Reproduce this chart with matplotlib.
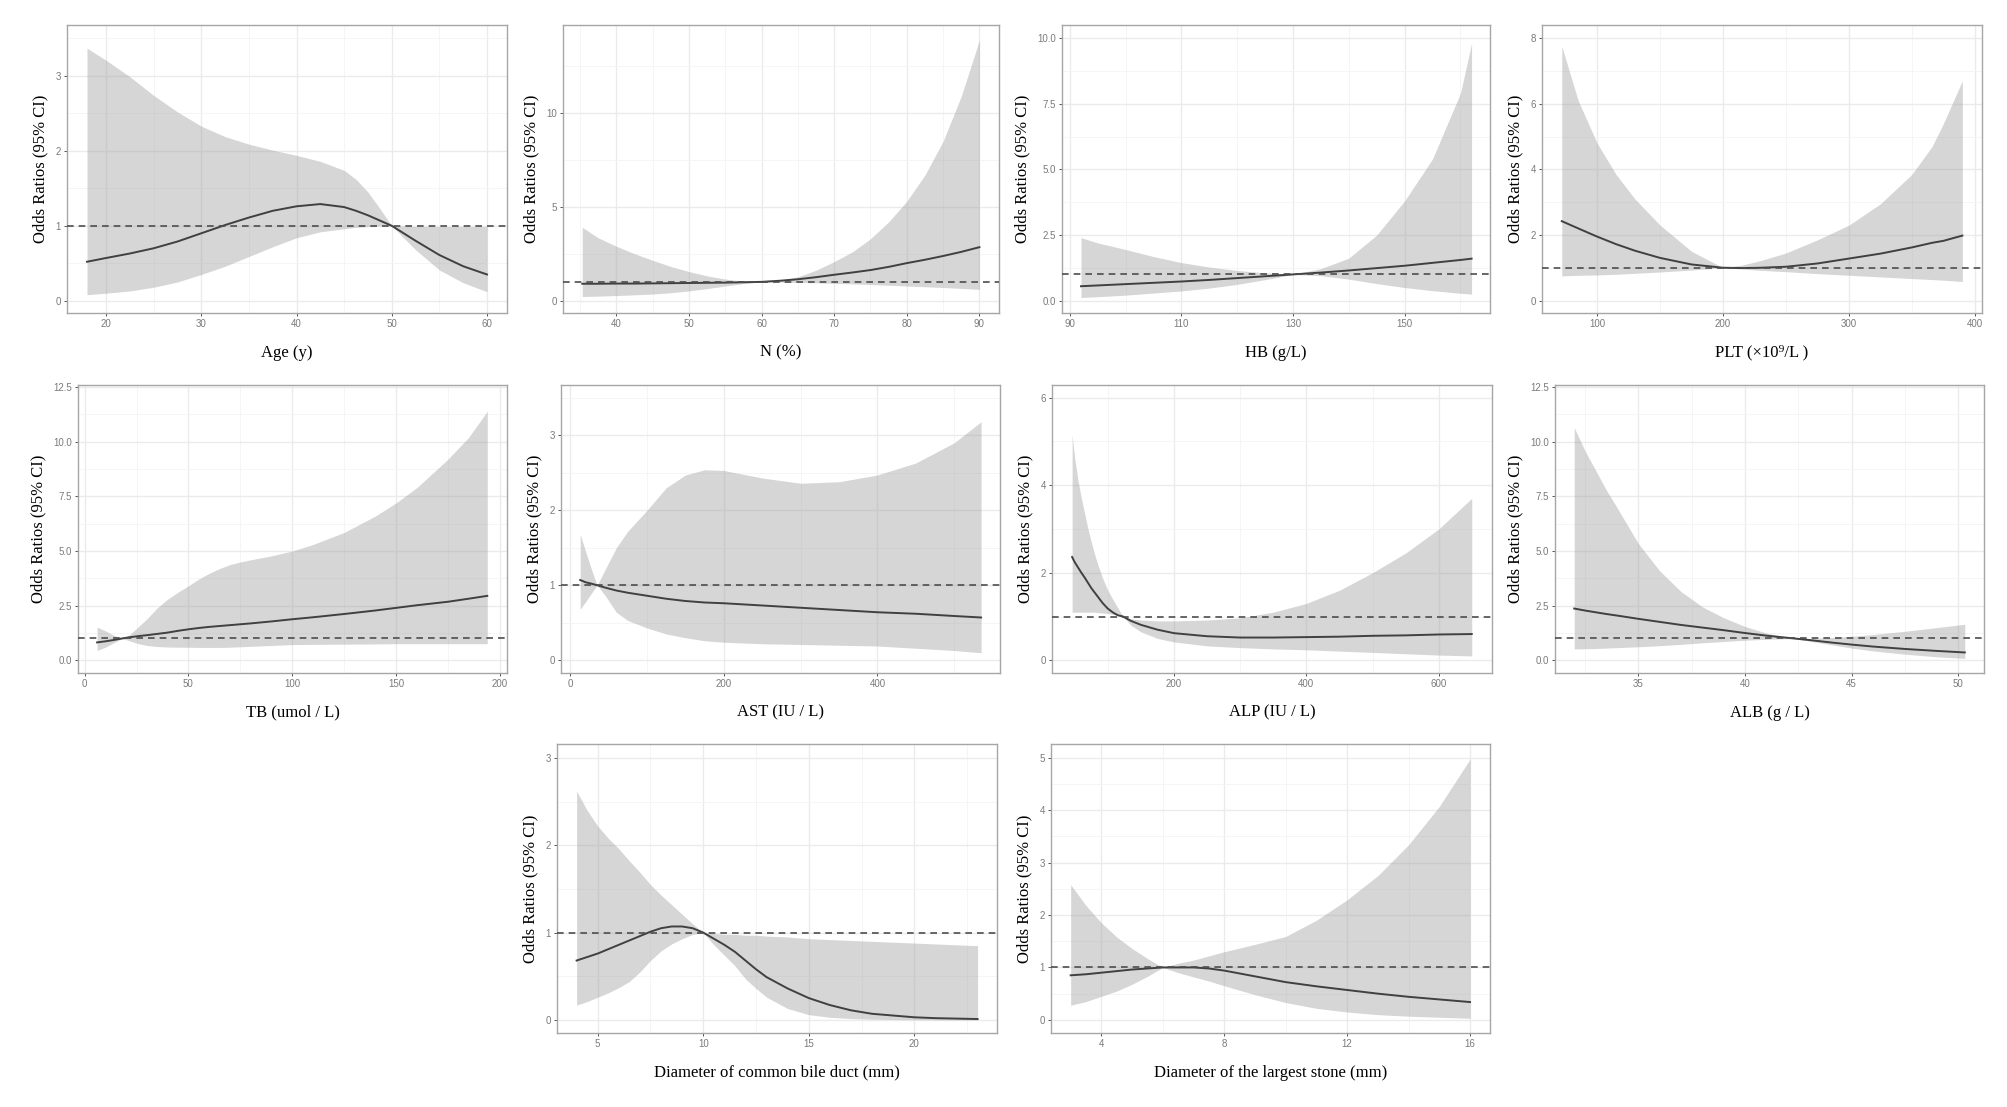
import matplotlib
matplotlib.use('Agg')
import matplotlib.pyplot as plt
from matplotlib.ticker import AutoMinorLocator

# ---- data (odds ratio curve with 95% CI band) ----
age_x  = [18, 20, 22.5, 25, 27.5, 30, 32.5, 35, 37.5, 40, 42.5, 45, 46.25, 47.5, 48.75, 50, 52.5, 55, 57.5, 60]
age_or = [0.52, 0.57, 0.63, 0.70, 0.79, 0.90, 1.01, 1.11, 1.20, 1.26, 1.29, 1.25, 1.20, 1.14, 1.07, 1.0, 0.80, 0.61, 0.46, 0.35]
age_lo = [0.08, 0.10, 0.13, 0.18, 0.25, 0.35, 0.46, 0.59, 0.72, 0.84, 0.92, 0.96, 0.98, 0.99, 1.0, 1.0, 0.68, 0.41, 0.24, 0.12]
age_hi = [3.37, 3.21, 2.99, 2.74, 2.52, 2.33, 2.19, 2.09, 2.01, 1.94, 1.86, 1.74, 1.62, 1.45, 1.23, 1.0, 0.99, 0.99, 0.99, 0.99]

n_x  = [35.3, 37.5, 40, 42.5, 45, 47.5, 50, 52.5, 55, 57.5, 60, 62.5, 65, 67.5, 70, 72.5, 75, 77.5, 80, 82.5, 85, 87.5, 90]
n_or = [0.90, 0.90, 0.91, 0.91, 0.92, 0.93, 0.94, 0.95, 0.96, 0.98, 1.0, 1.06, 1.14, 1.25, 1.38, 1.50, 1.63, 1.80, 2.0, 2.18, 2.38, 2.60, 2.85]
n_lo = [0.22, 0.24, 0.27, 0.31, 0.35, 0.42, 0.52, 0.64, 0.78, 0.91, 1.0, 0.99, 0.97, 0.95, 0.92, 0.89, 0.86, 0.82, 0.78, 0.74, 0.70, 0.65, 0.60]
n_hi = [3.91, 3.35, 2.90, 2.50, 2.15, 1.82, 1.55, 1.32, 1.15, 1.04, 1.0, 1.08, 1.27, 1.62, 2.08, 2.60, 3.30, 4.20, 5.30, 6.70, 8.50, 10.9, 13.9]

hb_x  = [92, 95, 100, 105, 110, 115, 120, 125, 130, 135, 140, 145, 150, 155, 160, 162]
hb_or = [0.55, 0.58, 0.63, 0.68, 0.73, 0.79, 0.86, 0.93, 1.0, 1.07, 1.15, 1.24, 1.33, 1.44, 1.55, 1.60]
hb_lo = [0.12, 0.15, 0.21, 0.29, 0.37, 0.48, 0.62, 0.80, 1.0, 0.95, 0.82, 0.65, 0.50, 0.38, 0.28, 0.25]
hb_hi = [2.40, 2.20, 1.95, 1.68, 1.45, 1.28, 1.15, 1.06, 1.0, 1.22, 1.62, 2.50, 3.80, 5.40, 7.90, 9.80]

plt_x  = [72, 85, 100, 115, 130, 150, 175, 200, 215, 230, 250, 275, 300, 325, 350, 366, 375, 390]
plt_or = [2.42, 2.20, 1.95, 1.72, 1.52, 1.30, 1.10, 1.0, 0.99, 1.0, 1.03, 1.13, 1.28, 1.43, 1.62, 1.76, 1.82, 1.98]
plt_lo = [0.75, 0.77, 0.78, 0.80, 0.83, 0.87, 0.93, 1.0, 0.96, 0.92, 0.88, 0.82, 0.77, 0.72, 0.67, 0.64, 0.62, 0.58]
plt_hi = [7.75, 6.10, 4.80, 3.85, 3.10, 2.30, 1.50, 1.0, 1.08, 1.22, 1.45, 1.85, 2.30, 2.95, 3.85, 4.70, 5.40, 6.70]

tb_x  = [6, 10, 14, 18, 22, 26, 30, 35, 40, 45, 50, 55, 60, 65, 70, 75, 80, 90, 100, 110, 125, 140, 150, 160, 175, 185, 194]
tb_or = [0.82, 0.87, 0.93, 1.0, 1.06, 1.11, 1.15, 1.21, 1.27, 1.35, 1.42, 1.48, 1.53, 1.57, 1.61, 1.65, 1.69, 1.78, 1.88, 1.97, 2.12, 2.28, 2.40, 2.52, 2.68, 2.82, 2.95]
tb_lo = [0.45, 0.60, 0.80, 1.0, 0.88, 0.76, 0.68, 0.63, 0.61, 0.60, 0.60, 0.59, 0.59, 0.59, 0.60, 0.62, 0.64, 0.68, 0.72, 0.73, 0.74, 0.75, 0.76, 0.76, 0.76, 0.76, 0.76]
tb_hi = [1.52, 1.35, 1.15, 1.0, 1.20, 1.55, 1.90, 2.40, 2.80, 3.12, 3.41, 3.72, 3.98, 4.20, 4.38, 4.50, 4.60, 4.78, 5.00, 5.30, 5.85, 6.60, 7.20, 7.90, 9.20, 10.2, 11.4]

ast_x  = [13, 20, 28, 35, 45, 60, 75, 100, 125, 150, 175, 200, 250, 300, 350, 400, 450, 500, 535]
ast_or = [1.07, 1.04, 1.02, 1.0, 0.97, 0.93, 0.90, 0.86, 0.82, 0.79, 0.77, 0.76, 0.73, 0.70, 0.67, 0.64, 0.62, 0.59, 0.57]
ast_lo = [0.68, 0.78, 0.90, 1.0, 0.87, 0.64, 0.53, 0.43, 0.35, 0.30, 0.26, 0.24, 0.22, 0.21, 0.20, 0.19, 0.16, 0.13, 0.10]
ast_hi = [1.68, 1.45, 1.20, 1.0, 1.20, 1.50, 1.72, 2.00, 2.30, 2.47, 2.54, 2.53, 2.43, 2.36, 2.38, 2.47, 2.63, 2.90, 3.18]

alp_x  = [46, 50, 55, 60, 65, 70, 75, 80, 85, 92, 100, 108, 115, 123, 135, 150, 175, 200, 250, 300, 350, 400, 450, 500, 550, 600, 650]
alp_or = [2.36, 2.24, 2.12, 2.00, 1.89, 1.77, 1.65, 1.55, 1.45, 1.31, 1.18, 1.09, 1.03, 1.0, 0.90, 0.81, 0.70, 0.62, 0.55, 0.52, 0.52, 0.53, 0.54, 0.56, 0.57, 0.59, 0.60]
alp_lo = [1.10, 1.10, 1.10, 1.10, 1.10, 1.10, 1.10, 1.10, 1.09, 1.08, 1.07, 1.05, 1.03, 1.0, 0.80, 0.65, 0.50, 0.42, 0.33, 0.29, 0.26, 0.24, 0.21, 0.18, 0.15, 0.12, 0.10]
alp_hi = [5.15, 4.60, 4.10, 3.70, 3.35, 3.00, 2.70, 2.42, 2.18, 1.88, 1.60, 1.38, 1.20, 1.0, 0.95, 0.92, 0.90, 0.90, 0.92, 0.97, 1.10, 1.30, 1.60, 2.00, 2.45, 3.00, 3.70]

alb_x  = [32.0, 32.5, 33, 33.5, 34, 35, 36, 37, 38, 39, 40, 41, 42.3, 43, 44, 45, 46, 47.5, 49, 50.3]
alb_or = [2.37, 2.28, 2.20, 2.12, 2.05, 1.90, 1.76, 1.62, 1.50, 1.38, 1.25, 1.13, 1.0, 0.93, 0.82, 0.72, 0.63, 0.52, 0.43, 0.36]
alb_lo = [0.52, 0.53, 0.54, 0.56, 0.58, 0.62, 0.67, 0.73, 0.80, 0.86, 0.92, 0.96, 1.0, 0.88, 0.72, 0.56, 0.43, 0.28, 0.16, 0.09]
alb_hi = [10.65, 9.60, 8.70, 7.80, 7.00, 5.35, 4.10, 3.15, 2.45, 1.95, 1.55, 1.25, 1.0, 1.0, 1.04, 1.10, 1.18, 1.33, 1.50, 1.65]

cbd_x  = [4, 4.5, 5, 5.5, 6, 6.5, 7, 7.5, 8, 8.5, 9, 9.5, 10, 10.5, 11, 11.5, 12, 12.5, 13, 14, 15, 16, 17, 18, 19, 20, 21, 22, 23]
cbd_or = [0.68, 0.72, 0.76, 0.81, 0.86, 0.91, 0.96, 1.01, 1.05, 1.07, 1.07, 1.05, 1.0, 0.93, 0.86, 0.78, 0.68, 0.58, 0.49, 0.36, 0.25, 0.17, 0.11, 0.07, 0.05, 0.03, 0.02, 0.015, 0.01]
cbd_lo = [0.17, 0.21, 0.26, 0.31, 0.37, 0.44, 0.55, 0.68, 0.79, 0.87, 0.93, 0.98, 1.0, 0.86, 0.74, 0.62, 0.47, 0.36, 0.26, 0.13, 0.06, 0.03, 0.015, 0.008, 0.004, 0.002, 0.001, 0.0, 0.0]
cbd_hi = [2.62, 2.40, 2.22, 2.08, 1.96, 1.82, 1.69, 1.55, 1.43, 1.32, 1.21, 1.10, 1.0, 0.99, 0.98, 0.98, 0.97, 0.97, 0.96, 0.95, 0.93, 0.92, 0.91, 0.90, 0.89, 0.88, 0.87, 0.86, 0.85]

st_x  = [3, 3.5, 4, 4.5, 5, 5.5, 6, 6.5, 7, 7.5, 8, 9, 10, 11, 12, 13, 14, 15, 16]
st_or = [0.85, 0.87, 0.90, 0.93, 0.96, 0.98, 1.0, 1.0, 1.0, 0.98, 0.94, 0.83, 0.72, 0.64, 0.57, 0.50, 0.44, 0.39, 0.34]
st_lo = [0.28, 0.35, 0.45, 0.55, 0.68, 0.83, 1.0, 0.90, 0.82, 0.74, 0.65, 0.48, 0.33, 0.22, 0.15, 0.10, 0.07, 0.05, 0.03]
st_hi = [2.58, 2.18, 1.85, 1.58, 1.36, 1.17, 1.0, 1.08, 1.14, 1.22, 1.30, 1.44, 1.59, 1.90, 2.29, 2.75, 3.34, 4.07, 4.97]

# ---- layout (pixel boxes in the 2008 x 1107 canvas) ----
W, H = 2008, 1107
serif = ['Liberation Serif', 'DejaVu Serif']
sans = ['Liberation Sans', 'DejaVu Sans']

fig = plt.figure(figsize=(W / 100, H / 100), dpi=100)
fig.patch.set_facecolor('white')

panels = [
    # x, or, lo, hi, xlabel, (left, right, top, bottom), xlim, ylim, xticks, yticks, yticklabels
    (age_x, age_or, age_lo, age_hi, 'Age (y)', (67, 507, 25, 313), (15.9, 62.1), (-0.164, 3.68),
     [20, 30, 40, 50, 60], [0, 1, 2, 3], ['0', '1', '2', '3']),
    (n_x, n_or, n_lo, n_hi, 'N (%)', (563, 999, 25, 313), (32.65, 92.7), (-0.66, 14.7),
     [40, 50, 60, 70, 80, 90], [0, 5, 10], ['0', '5', '10']),
    (hb_x, hb_or, hb_lo, hb_hi, 'HB (g/L)', (1062, 1490, 25, 313), (88.6, 165.3), (-0.47, 10.5),
     [90, 110, 130, 150], [0, 2.5, 5, 7.5, 10], ['0.0', '2.5', '5.0', '7.5', '10.0']),
    (plt_x, plt_or, plt_lo, plt_hi, 'PLT (\u00d710\u2079/L )', (1542, 1982, 25, 313), (56.3, 405.6), (-0.38, 8.4),
     [100, 200, 300, 400], [0, 2, 4, 6, 8], ['0', '2', '4', '6', '8']),
    (tb_x, tb_or, tb_lo, tb_hi, 'TB (umol / L)', (78, 507, 385, 673), (-3.2, 203.5), (-0.58, 12.6),
     [0, 50, 100, 150, 200], [0, 2.5, 5, 7.5, 10, 12.5], ['0.0', '2.5', '5.0', '7.5', '10.0', '12.5']),
    (ast_x, ast_or, ast_lo, ast_hi, 'AST (IU / L)', (561, 1000, 385, 673), (-12, 559.6), (-0.17, 3.67),
     [0, 200, 400], [0, 1, 2, 3], ['0', '1', '2', '3']),
    (alp_x, alp_or, alp_lo, alp_hi, 'ALP (IU / L)', (1052, 1492, 385, 673), (15.6, 680.6), (-0.29, 6.29),
     [200, 400, 600], [0, 2, 4, 6], ['0', '2', '4', '6']),
    (alb_x, alb_or, alb_lo, alb_hi, 'ALB (g / L)', (1555, 1984, 385, 673), (31.1, 51.2), (-0.58, 12.6),
     [35, 40, 45, 50], [0, 2.5, 5, 7.5, 10, 12.5], ['0.0', '2.5', '5.0', '7.5', '10.0', '12.5']),
    (cbd_x, cbd_or, cbd_lo, cbd_hi, 'Diameter of common bile duct (mm)', (557, 997, 744, 1033), (3.07, 23.92), (-0.15, 3.16),
     [5, 10, 15, 20], [0, 1, 2, 3], ['0', '1', '2', '3']),
    (st_x, st_or, st_lo, st_hi, 'Diameter of the largest stone (mm)', (1051, 1490, 744, 1033), (2.36, 16.65), (-0.25, 5.26),
     [4, 8, 12, 16], [0, 1, 2, 3, 4, 5], ['0', '1', '2', '3', '4', '5']),
]

for (x, odds, lo, hi, xlabel, box, xlim, ylim, xticks, yticks, ylabs) in panels:
    left, right, top, bottom = box
    ax = fig.add_axes([left / W, 1 - bottom / H, (right - left) / W, (bottom - top) / H])
    ax.set_facecolor('white')
    ax.set_axisbelow(True)

    ax.fill_between(x, lo, hi, color='#999999', alpha=0.4, linewidth=0, zorder=2)
    ax.plot(x, odds, color='#404040', linewidth=1.4, zorder=3)
    ax.axhline(1, color='#4d4d4d', linewidth=1.2, linestyle=(0, (4, 3)), zorder=4)

    ax.set_xlim(*xlim)
    ax.set_ylim(*ylim)
    ax.set_xticks(xticks)
    ax.set_xticklabels([str(t) for t in xticks])
    ax.set_yticks(yticks)
    ax.set_yticklabels(ylabs)
    ax.xaxis.set_minor_locator(AutoMinorLocator(2))
    ax.yaxis.set_minor_locator(AutoMinorLocator(2))

    ax.grid(which='major', color='#ebebeb', linewidth=1.0)
    ax.grid(which='minor', color='#f4f4f4', linewidth=0.6)

    ax.tick_params(which='major', length=2.5, width=0.7, color='#555555', pad=2,
                   labelsize=7, labelcolor='#7a7a7a')
    ax.tick_params(which='minor', length=0)
    for lab in ax.get_xticklabels() + ax.get_yticklabels():
        lab.set_family(sans)

    for sp in ax.spines.values():
        sp.set_color('#a6a6a6')
        sp.set_linewidth(1.0)

    ax.set_xlabel(xlabel, family=serif, fontsize=12, labelpad=11)
    ax.set_ylabel('Odds Ratios (95% CI)', family=serif, fontsize=12, labelpad=5)

fig.savefig('out.png', dpi=100, facecolor='white')
